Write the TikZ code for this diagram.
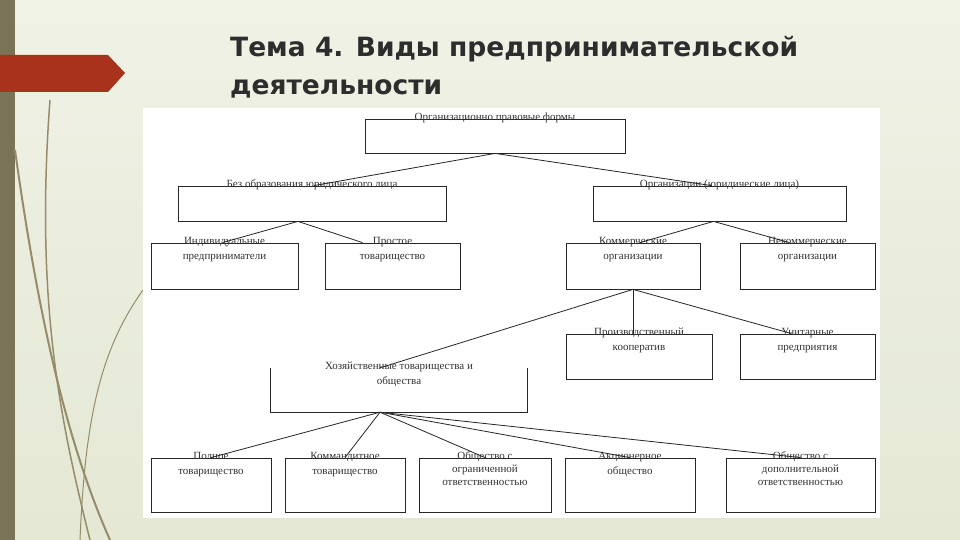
\documentclass[tikz,border=0pt]{standalone}
\usepackage{fontspec}
\setmainfont{Liberation Serif}
\newfontfamily\titlefont{DejaVu Sans}
\usetikzlibrary{calc}
\definecolor{bgtop}{RGB}{240,242,230}
\definecolor{bgbot}{RGB}{228,232,212}
\definecolor{barc}{RGB}{122,115,88}
\definecolor{stemc}{RGB}{150,140,105}
\definecolor{redc}{RGB}{168,50,27}
\definecolor{titc}{RGB}{45,45,45}
\begin{document}
\begin{tikzpicture}[x=1pt,y=-1pt,
  bx/.style={draw=black!85,line width=0.8pt,inner sep=0pt},
  tx/.style={anchor=north,inner sep=0pt,align=center,font=\fontsize{11}{15}\selectfont,text=black!80},
  ln/.style={draw=black!85,line width=0.8pt},
  tt/.style={anchor=base west,inner sep=0pt,font=\titlefont\bfseries\fontsize{26.5}{30}\selectfont,text=titc}]
\newcommand\bxn[6]{\node[bx,minimum width=#4,minimum height=#5] (#1) at (#2,#3) {};
  \node[tx] (#1t) at ($(#1.north)+(0,-6)$) {#6};}
\useasboundingbox (0,0) rectangle (960,540);
\shade[top color=bgtop,bottom color=bgbot] (0,0) rectangle (960,540);
\fill[barc] (0,0) rectangle (15,540);
\draw[stemc,line width=1.5pt] (50,100) .. controls (35,300) and (60,420) .. (90,540);
\draw[stemc,line width=2pt] (15,150) .. controls (40,330) and (70,450) .. (110,540);
\draw[stemc,line width=1pt] (143,290) .. controls (100,350) and (85,420) .. (80,540);
\fill[redc] (0,55) -- (108,55) -- (125,73) -- (108,92) -- (0,92) -- cycle;
\node[tt] (t1) at (230,57) {Тема 4. Виды предпринимательской};
\node[tt] (t2) at (230,95) {деятельности};
\fill[white] (143,108) rectangle (880,518);
\bxn{a}{495}{136}{260}{34}{Организационно правовые формы}
\bxn{b}{312}{203.5}{268}{35}{Без образования юридического лица}
\bxn{c}{719.5}{203.5}{253}{35}{Организации (юридические лица)}
\bxn{d}{224.5}{266}{147}{46}{Индивидуальные\\предприниматели}
\bxn{e}{392.5}{266}{135}{46}{Простое\\товарищество}
\bxn{f}{633}{266}{134}{46}{Коммерческие\\организации}
\bxn{g}{807.5}{266}{135}{46}{Некоммерческие\\организации}
\bxn{h}{639}{356.5}{146}{45}{Производственный\\кооператив}
\bxn{i}{807.5}{356.5}{135}{45}{Унитарные\\предприятия}
\node[inner sep=0pt,minimum width=256,minimum height=44] (j) at (399,390) {};
\node[tx] (jt) at ($(j.north)+(0,-6)$) {Хозяйственные товарищества и\\общества};
\draw[ln] (j.north west) -- (j.south west) -- (j.south east) -- (j.north east);
\bxn{k1}{211}{485}{120}{54}{Полное\\товарищество}
\bxn{k2}{345}{485}{120}{54}{Коммандитное\\товарищество}
\node[bx,minimum width=132,minimum height=54] (k3) at (485,485) {};
\node[tx,font=\fontsize{11}{13}\selectfont] (k3t) at ($(k3.north)+(0,-6)$) {Общество с\\ограниченной\\ответственностью};
\bxn{k4}{630}{485}{130}{54}{Акционерное\\общество}
\node[bx,minimum width=149,minimum height=54] (k5) at (800.5,485) {};
\node[tx,font=\fontsize{11}{13}\selectfont] (k5t) at ($(k5.north)+(0,-6)$) {Общество с\\дополнительной\\ответственностью};
\draw[ln] (a.south) -- ($(b.north)+(2,0)$);
\draw[ln] (a.south) -- ($(c.north)+(-8,0)$);
\draw[ln] ($(b.south)+(-14,0)$) -- ($(d.north)+(-2,0)$);
\draw[ln] ($(b.south)+(-14,0)$) -- ($(e.north)+(-30,0)$);
\draw[ln] ($(c.south)+(-6,0)$) -- ($(f.north)+(7,0)$);
\draw[ln] ($(c.south)+(-6,0)$) -- ($(g.north)+(-18,0)$);
\draw[ln] (f.south) -- (h.north-|f.south);
\draw[ln] (f.south) -- ($(i.north)+(-16,0)$);
\draw[ln] (f.south) -- ($(j.north)+(-19,0)$);
\coordinate (js) at ($(j.south)+(-19,0)$);
\foreach \k in {k1,k2,k3,k4,k5} \draw[ln] (js) -- (\k.north);
\end{tikzpicture}
\end{document}
